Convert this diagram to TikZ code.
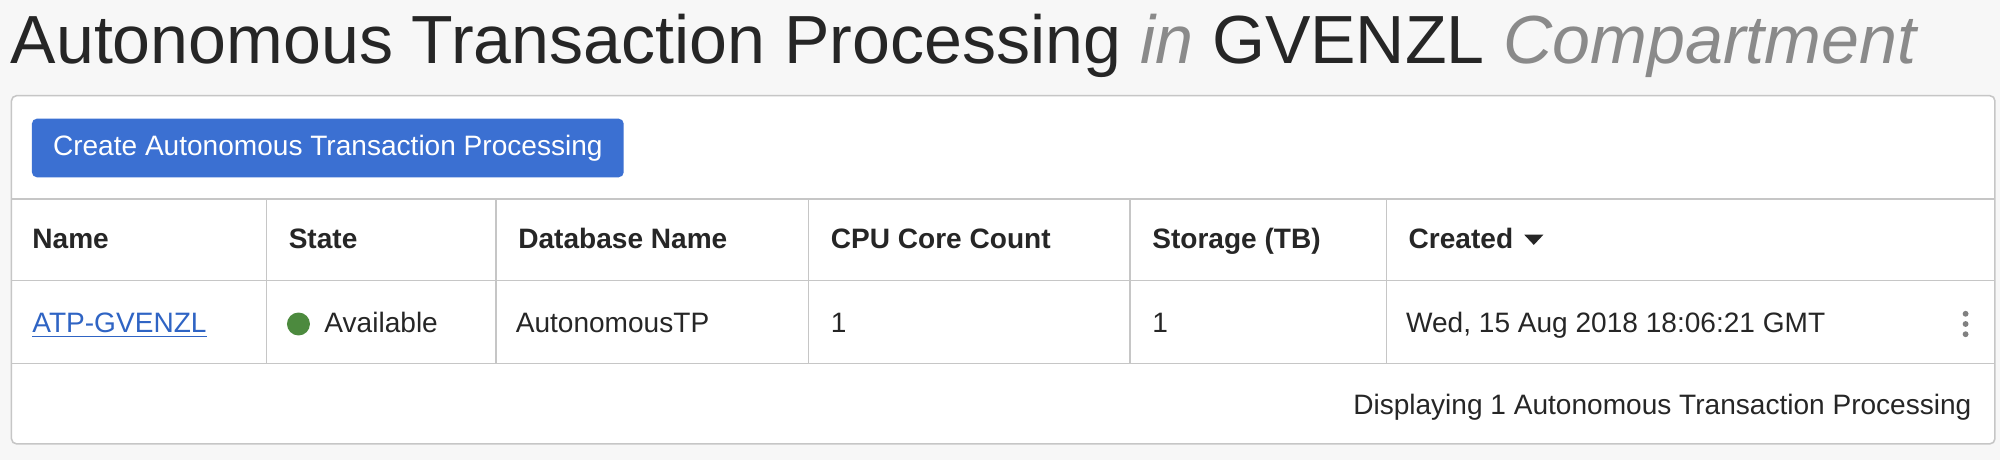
\documentclass[tikz,border=0pt]{standalone}
\usepackage{fontspec}
\setmainfont{Liberation Sans}
\definecolor{ink}{HTML}{262626}
\definecolor{grayt}{HTML}{8A8A8A}
\definecolor{bord}{HTML}{C6C6C6}
\definecolor{btn}{HTML}{3B70D2}
\definecolor{lnk}{HTML}{2F64C4}
\definecolor{okg}{HTML}{4C8A3E}
\begin{document}
\begin{tikzpicture}[x=0.5pt,y=-0.5pt,
  hdr/.style={anchor=base west,font=\fontsize{11}{13}\selectfont\bfseries,text=ink,inner sep=0},
  cell/.style={anchor=base west,font=\fontsize{11}{13}\selectfont,text=ink,inner sep=0},
  sep/.style={draw=bord,line width=0.6pt}]
\fill[white!97!black] (0,0) rectangle (1568,360.6);
\useasboundingbox (0,0) rectangle (1568,360.6);
\node[anchor=base west,inner sep=0,font=\fontsize{26.7}{30}\selectfont,text=ink] (title) at (8,50)
 {Autonomous Transaction Processing \textcolor{grayt}{\itshape in} GVENZL \textcolor{grayt}{\itshape Compartment}};
\draw[sep,fill=white,rounded corners=2pt] (9,75) rectangle (1564,348);
\node[fill=btn,rounded corners=2pt,minimum width=232pt,minimum height=23pt,inner sep=0,
  text=white,font=\fontsize{11}{13}\selectfont] (btn) at (257,116) {Create Autonomous Transaction Processing};
\draw[sep] (9,156) -- (1564,156);
\draw[sep] (9,220) -- (1564,220);
\draw[sep] (9,285) -- (1564,285);
\foreach \x in {209,389,634,886,1087} \draw[sep] (\x,156) -- (\x,285);
\node[hdr] (h1) at (25,195) {Name};
\node[hdr] (h2) at (226,195) {State};
\node[hdr] (h3) at (406,195) {Database Name};
\node[hdr] (h4) at (651,195) {CPU Core Count};
\node[hdr] (h5) at (903,195) {Storage (TB)};
\node[hdr] (h6) at (1104,195) {Created};
\fill[ink] (1195,184) -- (1210,184) -- (1202.5,192) -- cycle;
\node[cell,text=lnk] (r1) at (25,261) {\underline{ATP-GVENZL}};
\fill[okg] (234,254) circle (9);
\node[cell] (r2) at (254,261) {Available};
\node[cell] (r3) at (404,261) {AutonomousTP};
\node[cell] (r4) at (651,261) {1};
\node[cell] (r5) at (903,261) {1};
\node[cell] (r6) at (1102,261) {Wed, 15 Aug 2018 18:06:21 GMT};
\foreach \y in {246,254,262} \fill[gray] (1541,\y) circle (2.3);
\node[cell,anchor=base east] (foot) at (1546,325) {Displaying 1 Autonomous Transaction Processing};
\end{tikzpicture}
\end{document}
